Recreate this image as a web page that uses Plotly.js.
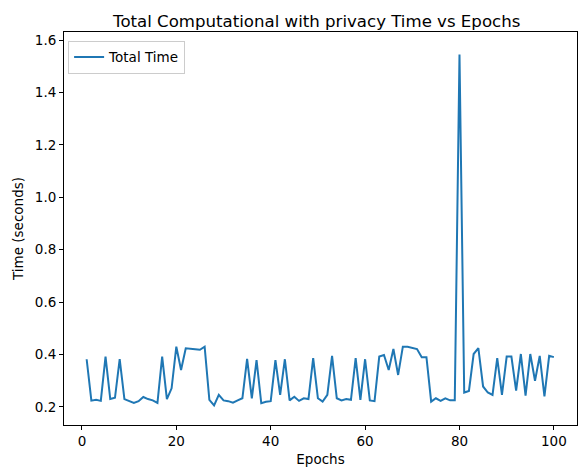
<!DOCTYPE html>
<html>
<head>
<meta charset="utf-8">
<script src="https://cdn.plot.ly/plotly-3.0.1.min.js"></script>
<style>html,body{margin:0;padding:0;background:#fff;}#chart{width:579px;height:467px;}</style>
</head>
<body>
<div id="chart"></div>
<script>
const epochs = Array.from({length: 100}, (_, i) => i + 1);
const totalTime = [
  0.382, 0.224, 0.227, 0.223, 0.392, 0.230, 0.235, 0.382, 0.230, 0.223,
  0.215, 0.222, 0.238, 0.230, 0.225, 0.215, 0.392, 0.230, 0.271, 0.430,
  0.341, 0.424, 0.421, 0.420, 0.418, 0.430, 0.227, 0.206, 0.246, 0.225,
  0.222, 0.216, 0.225, 0.233, 0.383, 0.233, 0.379, 0.214, 0.220, 0.222,
  0.379, 0.246, 0.382, 0.225, 0.239, 0.223, 0.233, 0.230, 0.386, 0.233,
  0.220, 0.246, 0.395, 0.233, 0.225, 0.230, 0.227, 0.386, 0.227, 0.382,
  0.225, 0.222, 0.392, 0.398, 0.341, 0.421, 0.322, 0.430, 0.430, 0.426,
  0.421, 0.390, 0.390, 0.220, 0.233, 0.223, 0.233, 0.225, 0.225, 1.545,
  0.255, 0.261, 0.402, 0.424, 0.278, 0.255, 0.246, 0.386, 0.246, 0.392,
  0.392, 0.262, 0.402, 0.243, 0.402, 0.300, 0.395, 0.240, 0.395, 0.390
];
const xTicks = [0, 20, 40, 60, 80, 100];
const yTicks = [0.2, 0.4, 0.6, 0.8, 1.0, 1.2, 1.4, 1.6];
const titleText = "Total Computational with privacy Time vs Epochs";
const seriesName = "Total Time";

const font = "DejaVu Sans, sans-serif";
const trace = {
  x: epochs, y: totalTime, type: "scatter", mode: "lines", name: seriesName,
  line: {color: "#1f77b4", width: 2}
};
const layout = {
  width: 579, height: 467,
  margin: {l: 64, r: 2, t: 32, b: 42},
  paper_bgcolor: "#fff", plot_bgcolor: "#fff",
  font: {family: font, size: 13, color: "#000"},
  title: {text: titleText, font: {family: font, size: 16.6, color: "#000"}, x: 0.547, xanchor: "center", y: 0.955, yanchor: "middle"},
  showlegend: true,
  legend: {x: 0.008, y: 0.978, xanchor: "left", yanchor: "top", bgcolor: "rgba(255,255,255,0.8)", bordercolor: "#cccccc", borderwidth: 1, font: {family: font, size: 13.5}},
  xaxis: {
    range: [-3.8, 104.9], tickvals: xTicks, ticktext: xTicks.map(String),
    showgrid: false, zeroline: false, showline: true, mirror: true, linecolor: "#000", linewidth: 1,
    ticks: "outside", ticklen: 4, tickcolor: "#000", tickfont: {size: 13.5},
    title: {text: "Epochs", font: {family: font, size: 13.5}, standoff: 6}
  },
  yaxis: {
    range: [0.131, 1.631], tickvals: yTicks, ticktext: yTicks.map(v => v.toFixed(1)),
    showgrid: false, zeroline: false, showline: true, mirror: true, linecolor: "#000", linewidth: 1,
    ticks: "outside", ticklen: 4, tickcolor: "#000", tickfont: {size: 13.5},
    title: {text: "Time (seconds)", font: {family: font, size: 13.5}, standoff: 8}
  }
};
Plotly.newPlot("chart", [trace], layout, {displayModeBar: false, staticPlot: true});
</script>
</body>
</html>
